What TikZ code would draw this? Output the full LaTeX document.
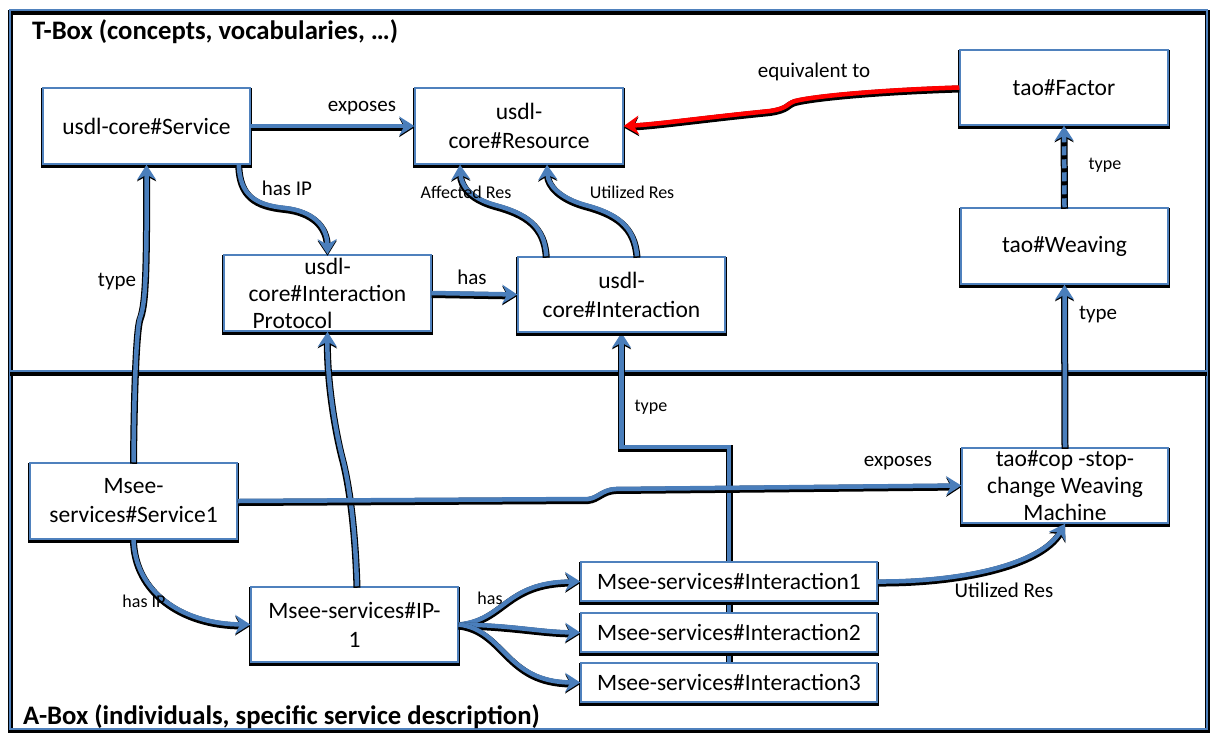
\documentclass[tikz,border=0pt]{standalone}
\usepackage{fontspec}
\setmainfont{Carlito}
\usetikzlibrary{arrows.meta}
\pgfdeclarelayer{back}
\pgfsetlayers{back,main}
\definecolor{boxblue}{HTML}{4F81BD}
\definecolor{linkblue}{HTML}{4A7EBB}
\newcommand{\nodefont}{\fontsize{23.5}{29}\selectfont}
\newcommand{\tightfont}{\fontsize{23.5}{27}\selectfont}
\newcommand{\lblfont}{\fontsize{21}{25}\selectfont}
\newcommand{\smlfont}{\fontsize{18}{22}\selectfont}
\newcommand{\titlefont}{\fontsize{26.7}{30}\selectfont\bfseries}
\tikzset{
  box/.style={draw=boxblue, line width=1.5pt, fill=white, inner sep=0pt,
    align=center, font=\nodefont, minimum width=207pt, minimum height=76pt,
    preaction={draw=black, line width=4pt, transform canvas={yshift=-1.5pt}}},
  smallbox/.style={box, minimum width=296pt, minimum height=39pt},
  conn/.style={draw=linkblue, line width=4.5pt,
    -{Stealth[length=15pt,width=19pt,inset=5pt]},
    preaction={draw=black, line width=7pt, transform canvas={yshift=-1.5pt}}},
  redconn/.style={conn, draw=red},
  frameline/.style={draw=boxblue, line width=2pt,
    preaction={draw=black, line width=5pt, transform canvas={yshift=-2pt}}},
  lbl/.style={inner sep=0pt, font=\lblfont},
  sml/.style={inner sep=0pt, font=\smlfont},
}
\begin{document}
\begin{tikzpicture}[x=1pt,y=-1pt]
\useasboundingbox (0,0) rectangle (1213,732);

% section titles
\node[anchor=west, inner sep=0pt, font=\titlefont] (tbox) at (32,32) {T-Box (concepts, vocabularies, …)};
\node[anchor=west, inner sep=0pt, font=\titlefont] (abox) at (23,717) {A-Box (individuals, specific service description)};

% T-Box concepts
\node[box] (svc) at (146.5,126) {usdl-core\#Service};
\node[box, minimum width=208pt] (res) at (519,126) {usdl-\\core\#Resource};
\node[box, minimum width=208pt, minimum height=75pt] (factor) at (1064,87.5) {tao\#Factor};
\node[box] (weav) at (1064.5,246) {tao\#Weaving};
\node[box, font=\tightfont] (ip) at (327.5,293) {usdl-\\core\#Interaction\\\hspace*{-70pt}Protocol};
\node[box, minimum height=75pt] (inter) at (621.5,294.5) {usdl-\\core\#Interaction};

% A-Box individuals
\node[box] (svc1) at (133.5,501) {Msee-\\services\#Service1};
\node[box, minimum height=75pt] (ip1) at (354.5,624.5) {Msee-services\#IP-\\1};
\node[box, font=\tightfont, minimum width=206pt, minimum height=75pt] (cop) at (1065,485.5) {tao\#cop -stop-\\change Weaving\\Machine};
\node[smallbox] (i3) at (729,682.5) {Msee-services\#Interaction3};
\node[smallbox] (i2) at (729,632.5) {Msee-services\#Interaction2};
\node[smallbox] (i1) at (729,581.5) {Msee-services\#Interaction1};

\begin{pgfonlayer}{back}
  \fill[white] (0,0) rectangle (1213,732);
  % outer frame and the T-Box / A-Box divider
  \draw[frameline] (10,10) rectangle (1207,729);
  \coordinate (divl) at (10,371);
  \coordinate (divr) at (1207,371);
  \draw[frameline] (divl) -- (divr);
  % interactions typed as usdl-core#Interaction (runs behind the boxes)
  \coordinate (tbend) at (621.5,447);
  \draw[conn] (i3.north) |- (tbend) -- (inter.south);
\end{pgfonlayer}

% T-Box relations
\draw[conn] (svc.east) -- (res.west);
\draw[redconn] (factor.west) .. controls (880,90) and (815,96) .. (795,101)
  .. controls (786,104) and (789,108) .. (770,111)
  .. controls (700,118) and (660,124) .. (res.east);
\draw[conn, dash pattern=on 9pt off 4pt] (weav.north) -- (factor.south);
\draw[conn] ([xshift=-12pt]svc.south east) .. controls (240,195) and (255,205) .. (285,208)
  .. controls (312,211) and (327,225) .. (ip.north);
\draw[conn] (ip.east) -- (inter.west);
\draw[conn] ([xshift=29pt]inter.north west) .. controls (545,225) and (525,213) .. (495,205)
  .. controls (470,198) and (461,185) .. ([xshift=-59pt]res.south);
\draw[conn] ([xshift=15.5pt]inter.north) .. controls (635,225) and (615,213) .. (585,205)
  .. controls (560,198) and (548,185) .. ([xshift=28pt]res.south);

% A-Box to T-Box typing
\draw[conn] (svc1.north) .. controls (134,400) and (136,330) .. (140,318)
  .. controls (145,305) and (147,280) .. (svc.south);
\draw[conn] ([xshift=2.5pt]ip1.north) .. controls (355,520) and (348,480) .. (343,460)
  .. controls (335,430) and (327,380) .. (ip.south);
\draw[conn] (cop.north) -- (weav.south);

% A-Box relations
\draw[conn] (svc1.east) -- (588,499) .. controls (598,498) and (602,490) .. (615,489) -- (cop.west);
\draw[conn] (svc1.south) .. controls (135,590) and (180,624) .. (ip1.west);
\draw[conn] (ip1.east) .. controls (505,620) and (505,582) .. (i1.west);
\draw[conn] (ip1.east) .. controls (510,625) and (540,632) .. (i2.west);
\draw[conn] (ip1.east) .. controls (505,630) and (505,682) .. (i3.west);
\draw[conn] (i1.east) .. controls (960,582) and (1040,565) .. (cop.south);

% relation labels
\node[lbl] (lexp) at (362,108) {exposes};
\node[lbl] (lhasip) at (287,188) {has IP};
\node[sml] (laff) at (466,192) {Affected Res};
\node[sml] (lutil) at (632,192) {Utilized Res};
\node[lbl] (lequiv) at (814,72) {equivalent to};
\node[sml] (ltypef) at (1105,165) {type};
\node[lbl] (ltypew) at (1098,315) {type};
\node[lbl] (ltypes) at (117,282) {type};
\node[lbl] (lhas) at (472,277) {has};
\node[sml] (ltypei) at (651,407) {type};
\node[sml] (lhasip2) at (144,601) {has IP};
\node[sml] (lhas2) at (490,598) {has};
\node[lbl] (lexp2) at (898,463) {exposes};
\node[lbl] (lutil2) at (1004,590) {Utilized Res};
\end{tikzpicture}
\end{document}
